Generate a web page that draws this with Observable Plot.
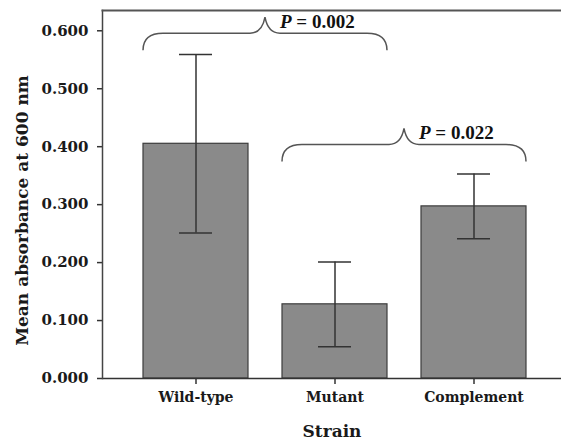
<!DOCTYPE html>
<html>
<head>
<meta charset="utf-8">
<script src="https://cdn.jsdelivr.net/npm/d3@7"></script>
<script src="https://cdn.jsdelivr.net/npm/@observablehq/plot@0.6"></script>
<style>
  html, body { margin: 0; padding: 0; background: #fff; }
</style>
</head>
<body>
<div id="chart"></div>
<script>
// ---- data ----
const strains = ["Wild-type", "Mutant", "Complement"];
const means = [0.405, 0.128, 0.297];
const errors = [0.154, 0.073, 0.056];
const yTicks = [0, 0.1, 0.2, 0.3, 0.4, 0.5, 0.6];
const braceFrom = ["Wild-type", "Mutant"];
const braceTo = ["Mutant", "Complement"];
const braceLevel = [0.595, 0.403];
const pValues = ["0.002", "0.022"];
const yLabel = "Mean absorbance at 600 nm";
const xLabel = "Strain";

const rows = strains.map((s, i) => ({strain: s, mean: means[i], lo: means[i] - errors[i], hi: means[i] + errors[i]}));
const braces = braceFrom.map((f, i) => ({from: f, to: braceTo[i], level: braceLevel[i], p: pValues[i]}));

function braceMark(index, scales, values, dimensions, context) {
  const x = scales.x, y = scales.y;
  const bw = x.bandwidth ? x.bandwidth() : 0;
  const g = d3.create("svg:g");
  for (const b of braces) {
    const xL = x(b.from), xR = x(b.to) + bw, xm = (xL + xR) / 2;
    const yb = y(b.level), yt = yb - 16, ye = yb + 17;
    const r = 20, rt = 15;
    const path = `M${xL},${ye} Q${xL},${yb} ${xL + r},${yb} L${xm - rt},${yb} Q${xm - 3},${yb} ${xm},${yt} Q${xm + 3},${yb} ${xm + rt},${yb} L${xR - r},${yb} Q${xR},${yb} ${xR},${ye}`;
    g.append("path").attr("d", path).attr("fill", "none").attr("stroke", "#555").attr("stroke-width", 1.5);
    const t = g.append("text")
      .attr("x", xm + 15).attr("y", yb - 5)
      .attr("text-anchor", "start")
      .attr("font-family", "'Liberation Serif', 'Times New Roman', serif")
      .attr("font-size", 19).attr("font-weight", "bold").attr("fill", "#111");
    t.append("tspan").attr("font-style", "italic").text("P");
    t.append("tspan").text(" = " + b.p);
  }
  return g.node();
}

const chart = Plot.plot({
  width: 561,
  height: 441,
  marginLeft: 102,
  marginRight: 0,
  marginTop: 10,
  marginBottom: 63,
  style: {fontFamily: "'DejaVu Serif', serif", fontSize: "14px", fontWeight: "bold", color: "#1a1a1a", background: "#fff"},
  x: {domain: strains, paddingInner: 0.245, paddingOuter: 0.27, align: 0.54, label: null},
  y: {domain: [0, 0.635], label: null},
  marks: [
    Plot.barY(rows, {x: "strain", y: "mean", fill: "#8a8a8a", stroke: "#3c3c3c", strokeWidth: 1.2}),
    Plot.ruleX(rows, {x: "strain", y1: "lo", y2: "hi", stroke: "#333", strokeWidth: 1.5}),
    Plot.tickY(rows, {x: "strain", y: "hi", stroke: "#333", strokeWidth: 1.5, inset: 36}),
    Plot.tickY(rows, {x: "strain", y: "lo", stroke: "#333", strokeWidth: 1.5, inset: 36}),
    Plot.axisY({ticks: yTicks, tickFormat: d3.format(".3f"), tickSize: 5, tickPadding: 9, fontSize: 15, stroke: "#333", strokeWidth: 1.5, label: null}),
    Plot.axisX({tickSize: 6, tickPadding: 8, stroke: "#333", strokeWidth: 1.5, label: null}),
    Plot.ruleY([0], {stroke: "#333", strokeWidth: 1.5}),
    Plot.frame({anchor: "left", stroke: "#444", strokeWidth: 1.5}),
    Plot.frame({anchor: "top", stroke: "#555", strokeWidth: 2}),
    braceMark,
    Plot.text([yLabel], {frameAnchor: "left", textAnchor: "middle", rotate: -90, dx: -80, dy: 16, fontSize: 17, fontWeight: "bold", fill: "#1a1a1a"}),
    Plot.text([xLabel], {frameAnchor: "bottom", textAnchor: "middle", dy: 53, lineAnchor: "middle", fontSize: 17, fontWeight: "bold", fill: "#1a1a1a"})
  ]
});
document.getElementById("chart").appendChild(chart);
</script>
</body>
</html>
